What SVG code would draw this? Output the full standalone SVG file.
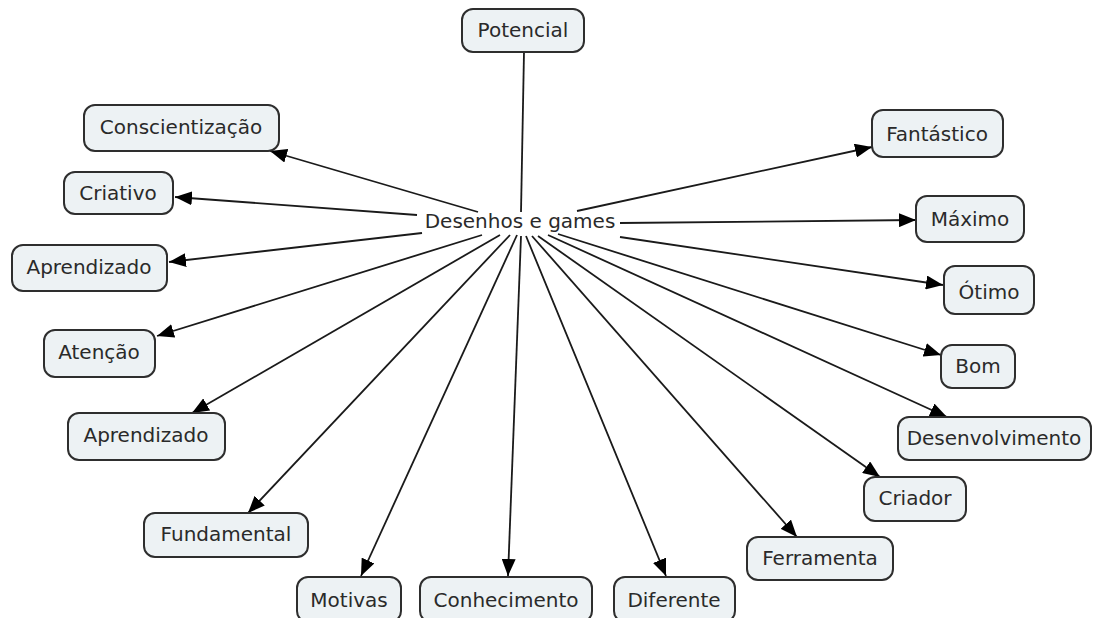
<svg xmlns="http://www.w3.org/2000/svg" width="1097" height="618" viewBox="0 0 1097 618">
<style>
.n rect{fill:#edf2f4;stroke:#2e2e2e;stroke-width:2}
text{font-family:"DejaVu Sans",Verdana,sans-serif;font-size:20px;fill:#2a2a2a;text-anchor:middle}
.c line{stroke:#1a1a1a;stroke-width:1.8}
.a{marker-end:url(#arr)}
</style>
<defs>
<marker id="arr" markerUnits="userSpaceOnUse" markerWidth="17" markerHeight="14" refX="17" refY="7" orient="auto">
<path d="M0,0 L17,7 L0,14 z" fill="#000"/>
</marker>
</defs>
<rect width="1097" height="618" fill="#fff"/>
<g class="c">
<line x1="524" y1="52" x2="521" y2="212"/>
<line class="a" x1="478" y1="212" x2="270" y2="151"/>
<line class="a" x1="417" y1="215" x2="175" y2="197"/>
<line class="a" x1="422" y1="233" x2="169" y2="262"/>
<line class="a" x1="482" y1="235" x2="157" y2="336"/>
<line class="a" x1="500" y1="235" x2="192" y2="413"/>
<line class="a" x1="510" y1="235" x2="248" y2="513"/>
<line class="a" x1="517" y1="235" x2="361" y2="576"/>
<line class="a" x1="521" y1="236" x2="508" y2="576"/>
<line class="a" x1="526" y1="236" x2="666" y2="576"/>
<line class="a" x1="532" y1="236" x2="797" y2="537"/>
<line class="a" x1="538" y1="236" x2="880" y2="477"/>
<line class="a" x1="548" y1="235" x2="947" y2="417"/>
<line class="a" x1="558" y1="234" x2="941" y2="355"/>
<line class="a" x1="620" y1="237" x2="943" y2="285"/>
<line class="a" x1="620" y1="223" x2="916" y2="220"/>
<line class="a" x1="577" y1="211" x2="872" y2="147"/>
</g>
<g id="center"><text x="520" y="228">Desenhos e games</text></g>
<g id="potencial" class="n"><rect x="462" y="9" width="122" height="43" rx="11"/><text x="523" y="37">Potencial</text></g>
<g id="conscientizacao" class="n"><rect x="84" y="105" width="195" height="46" rx="11"/><text x="181" y="134">Conscientização</text></g>
<g id="criativo" class="n"><rect x="64" y="172" width="109" height="42" rx="11"/><text x="118" y="200">Criativo</text></g>
<g id="aprendizado1" class="n"><rect x="12" y="245" width="155" height="46" rx="11"/><text x="89" y="274">Aprendizado</text></g>
<g id="atencao" class="n"><rect x="44" y="330" width="111" height="47" rx="11"/><text x="99" y="359">Atenção</text></g>
<g id="aprendizado2" class="n"><rect x="68" y="413" width="157" height="47" rx="11"/><text x="146" y="442">Aprendizado</text></g>
<g id="fundamental" class="n"><rect x="144" y="513" width="164" height="44" rx="11"/><text x="226" y="541">Fundamental</text></g>
<g id="motivas" class="n"><rect x="297" y="577" width="104" height="45" rx="11"/><text x="349" y="607">Motivas</text></g>
<g id="conhecimento" class="n"><rect x="420" y="577" width="172" height="45" rx="11"/><text x="506" y="607">Conhecimento</text></g>
<g id="diferente" class="n"><rect x="614" y="577" width="121" height="45" rx="11"/><text x="674" y="607">Diferente</text></g>
<g id="ferramenta" class="n"><rect x="747" y="537" width="146" height="43" rx="11"/><text x="820" y="565">Ferramenta</text></g>
<g id="criador" class="n"><rect x="864" y="477" width="102" height="44" rx="11"/><text x="915" y="505">Criador</text></g>
<g id="desenvolvimento" class="n"><rect x="898" y="417" width="193" height="43" rx="11"/><text x="994" y="445">Desenvolvimento</text></g>
<g id="bom" class="n"><rect x="941" y="345" width="74" height="43" rx="11"/><text x="978" y="373">Bom</text></g>
<g id="otimo" class="n"><rect x="944" y="266" width="90" height="48" rx="11"/><text x="989" y="299">Ótimo</text></g>
<g id="maximo" class="n"><rect x="916" y="196" width="108" height="46" rx="11"/><text x="970" y="226">Máximo</text></g>
<g id="fantastico" class="n"><rect x="872" y="110" width="131" height="47" rx="11"/><text x="937" y="141">Fantástico</text></g>
</svg>
